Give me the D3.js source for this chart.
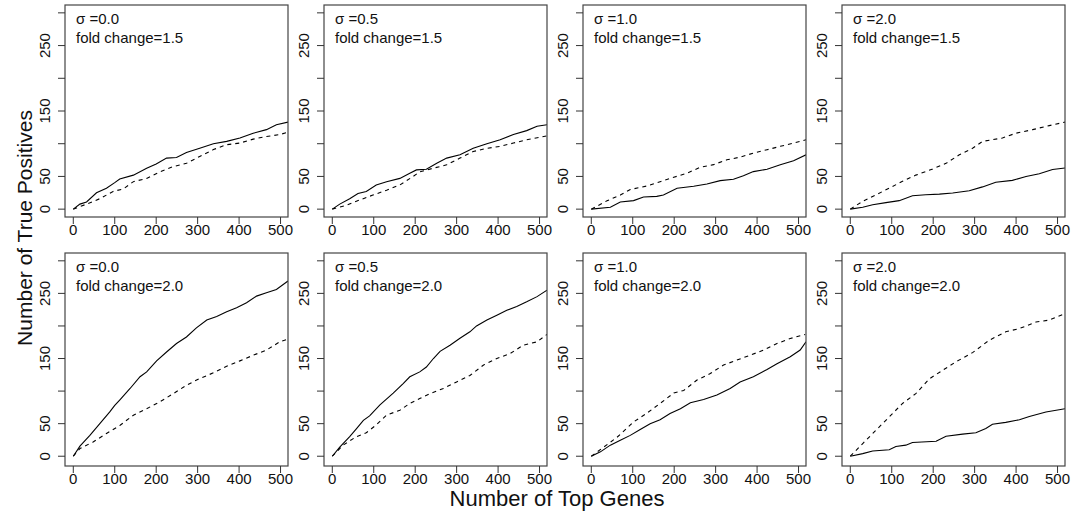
<!DOCTYPE html>
<html lang="en">
    <head>
        <meta charset="UTF-8">
        <title>True Positives vs Top Genes</title>
        <style>
            body {
                margin: 0;
                background-color: #ffffff;
                font-family: 'Liberation Sans', Arial, Helvetica, sans-serif;
            }
            .frame {
                fill: none;
                stroke: #444;
                stroke-width: 1.2px;
            }
            .tick {
                stroke: #333;
                stroke-width: 1px;
            }
            .tick-label {
                font-size: 15px;
                fill: #111;
            }
            .note {
                font-size: 15px;
                fill: #111;
            }
            .title {
                font-size: 21px;
                fill: #111;
            }
            .curve {
                fill: none;
                stroke: #000;
                stroke-width: 1.1px;
            }
            .dashed {
                stroke-dasharray: 4,4;
            }
        </style>
    </head>
    <body>
        <div id="chart"></div>

        <script src="https://d3js.org/d3.v7.min.js"></script>
        <script>
            // chart values
            const sigmas = ["0.0", "0.5", "1.0", "2.0"];
            const foldChanges = ["1.5", "2.0"];
            const xTicks = [0, 100, 200, 300, 400, 500];
            const yTicks = [0, 50, 100, 150, 200, 250, 300];
            const yTickLabels = ["0", "50", "", "150", "", "250", ""];
            const xTitle = "Number of Top Genes";
            const yTitle = "Number of True Positives";

            // fold change 1.5 (top row), [genes, true positives]
            const p1Solid = [[0,0],[16,7.7],[32,11],[56,25],[80,32],[100,40.5],[112,46],[145,52],[177,62.5],[200,69],[225,78],[249,79],[273,86.7],[305,93],[338,100],[370,103.6],[402,108.7],[434,116],[466,121.5],[490,129],[518,133]];
            const p1Dashed = [[0,0],[32,7.7],[64,16],[96,27],[121,31],[145,42],[177,47],[209,57],[241,65],[273,70],[305,80.5],[338,91],[370,98.5],[402,101],[434,107],[466,111],[498,114],[518,117.5]];
            const p2Solid = [[0,0],[18,7.7],[42,16],[62,24],[82,27],[106,37],[131,42],[163,47],[187,55],[203,60],[227,61],[252,70],[276,78],[308,83],[340,93],[373,100],[405,106],[437,114],[469,120],[494,126.7],[518,129]];
            const p2Dashed = [[0,0],[34,6],[66,14],[98,21.5],[131,29],[163,37],[195,50],[211,57],[244,62.6],[276,67.7],[308,78],[340,88],[373,93],[405,96],[437,101],[469,106],[502,110],[518,112]];
            const p3Solid = [[0,0],[46,3],[70,11],[102,13],[126,18.5],[158,19.5],[174,21.5],[207,32],[247,35],[279,38.5],[311,43.6],[343,45.6],[367,51],[391,57.4],[424,61],[456,67.7],[488,74],[518,83]];
            const p3Dashed = [[0,0],[38,12.8],[70,21.5],[94,30],[134,35.4],[166,42],[199,48.7],[231,55],[263,64],[295,68],[327,75.4],[359,79.5],[391,85.6],[424,90.8],[456,96],[488,101],[518,106]];
            const p4Solid = [[0,0],[30,3],[54,6.7],[86,10],[118,13],[150,20.5],[182,22],[215,23],[247,24.6],[287,28],[319,34],[351,41],[391,44],[424,50],[456,54],[488,60.5],[518,63]];
            const p4Dashed = [[0,0],[30,12],[62,22],[94,32],[126,42.6],[158,52],[199,61.5],[231,70],[263,83],[295,93],[319,103.6],[367,108.7],[399,116],[440,121.5],[480,127.7],[518,133]];

            // fold change 2.0 (bottom row)
            const p5Solid = [[0,0],[16,15.4],[40,32],[64,50],[88,68],[100,78],[113,87],[137,104],[161,122],[177,129.5],[201,146.4],[225,160],[249,173],[273,183],[297,197],[322,209],[346,214.5],[370,221.7],[394,228],[418,235.5],[442,245.8],[466,251],[490,256],[518,269]];
            const p5Dashed = [[0,0],[16,11.8],[48,22],[80,34.8],[113,47.6],[145,63],[177,73],[209,83.5],[241,96],[273,109],[305,119.3],[338,128],[370,138],[402,146.4],[434,155],[466,163],[498,175.6],[518,179.7]];
            const p6Solid = [[0,0],[18,14],[42,30],[58,42],[75,55],[90,62],[115,79],[147,97],[171,111.6],[187,122],[211,129.5],[227,137],[244,150],[260,161],[284,170.5],[308,181],[332,191],[348,200],[373,209],[397,216.6],[421,224],[445,230],[469,237],[494,245],[518,255]];
            const p6Dashed = [[0,0],[26,17],[58,30],[82,36],[106,48],[131,63],[163,70.7],[187,81],[211,88.6],[235,96],[268,104],[300,114],[332,124],[365,140],[397,150],[429,157.7],[461,170.5],[494,175.6],[518,187]];
            const p7Solid = [[0,0],[22,6.7],[46,17],[70,24.6],[94,32],[118,41],[142,50],[166,56],[190,65.5],[215,73],[239,82],[271,87],[303,94],[335,104],[359,114],[391,122],[424,133],[448,142],[480,152.6],[504,163],[518,175.6]];
            const p7Dashed = [[0,0],[30,14],[62,29],[102,52.7],[134,66],[166,81],[199,97],[223,101],[255,117],[287,127],[319,140],[351,147.5],[383,155],[416,163],[448,173],[480,180.7],[516,187]];
            const p8Solid = [[0,0],[30,4],[54,8],[94,10],[110,15],[134,17],[150,21],[207,23],[231,30.7],[271,34],[303,36],[327,42.5],[343,49],[375,52],[408,56],[432,61],[472,68],[518,73]];
            const p8Dashed = [[0,0],[30,19.5],[62,40],[94,60.4],[126,81],[158,96],[191,119],[223,132],[255,145],[295,159],[335,178],[375,191],[408,196],[448,206],[480,209],[518,219]];

            const solidRows = [[p1Solid, p2Solid, p3Solid, p4Solid], [p5Solid, p6Solid, p7Solid, p8Solid]];
            const dashedRows = [[p1Dashed, p2Dashed, p3Dashed, p4Dashed], [p5Dashed, p6Dashed, p7Dashed, p8Dashed]];

            // layout
            const width = 1072;
            const height = 516;
            const panelLefts = [65, 324, 583, 842];
            const panelWidth = 223;
            const rowTops = [5, 253];
            const rowBottoms = [217, 466];
            const yDomains = [[-12, 312], [-15, 312]];

            const svg = d3.select("#chart").append("svg")
                .attr("width", width)
                .attr("height", height);

            const line = (x, y) => d3.line().x(d => x(d[0])).y(d => y(d[1]));

            foldChanges.forEach((fc, r) => {
                sigmas.forEach((sg, c) => {
                    const left = panelLefts[c];
                    const top = rowTops[r];
                    const bottom = rowBottoms[r];
                    const x = d3.scaleLinear().domain([-20, 518]).range([left, left + panelWidth]);
                    const y = d3.scaleLinear().domain(yDomains[r]).range([bottom, top]);
                    const g = svg.append("g");
                    const clipId = "clip-" + r + "-" + c;

                    g.append("clipPath").attr("id", clipId)
                        .append("rect")
                        .attr("x", left).attr("y", top)
                        .attr("width", panelWidth).attr("height", bottom - top);

                    // curves
                    g.append("path")
                        .datum(solidRows[r][c])
                        .attr("class", "curve")
                        .attr("clip-path", "url(#" + clipId + ")")
                        .attr("d", line(x, y));
                    g.append("path")
                        .datum(dashedRows[r][c])
                        .attr("class", "curve dashed")
                        .attr("clip-path", "url(#" + clipId + ")")
                        .attr("d", line(x, y));

                    // box
                    g.append("rect")
                        .attr("class", "frame")
                        .attr("x", left).attr("y", top)
                        .attr("width", panelWidth).attr("height", bottom - top);

                    // x axis ticks
                    g.selectAll(".xt").data(xTicks).enter().append("line")
                        .attr("class", "tick")
                        .attr("x1", d => x(d)).attr("x2", d => x(d))
                        .attr("y1", bottom).attr("y2", bottom + 7);
                    g.selectAll(".xl").data(xTicks).enter().append("text")
                        .attr("class", "tick-label")
                        .attr("x", d => x(d))
                        .attr("y", bottom + 18)
                        .attr("text-anchor", "middle")
                        .text(d => d);

                    // y axis ticks
                    g.selectAll(".yt").data(yTicks).enter().append("line")
                        .attr("class", "tick")
                        .attr("x1", left - 7).attr("x2", left)
                        .attr("y1", d => y(d)).attr("y2", d => y(d));
                    g.selectAll(".yl").data(yTicks).enter().append("text")
                        .attr("class", "tick-label")
                        .attr("transform", d => `translate(${left - 15},${y(d)}) rotate(-90)`)
                        .attr("text-anchor", "middle")
                        .text((d, i) => yTickLabels[i]);

                    // panel notes
                    g.append("text")
                        .attr("class", "note")
                        .attr("x", left + 11)
                        .attr("y", top + 19)
                        .text("\u03c3 =" + sg);
                    g.append("text")
                        .attr("class", "note")
                        .attr("x", left + 11)
                        .attr("y", top + 38)
                        .text("fold change=" + fc);
                });
            });

            // outer titles
            svg.append("text")
                .attr("class", "title")
                .attr("x", 557)
                .attr("y", 506)
                .attr("text-anchor", "middle")
                .style("font-size", "22px")
                .text(xTitle);
            svg.append("text")
                .attr("class", "title")
                .attr("transform", "translate(32,228) rotate(-90)")
                .attr("text-anchor", "middle")
                .text(yTitle);
        </script>
    </body>
</html>
